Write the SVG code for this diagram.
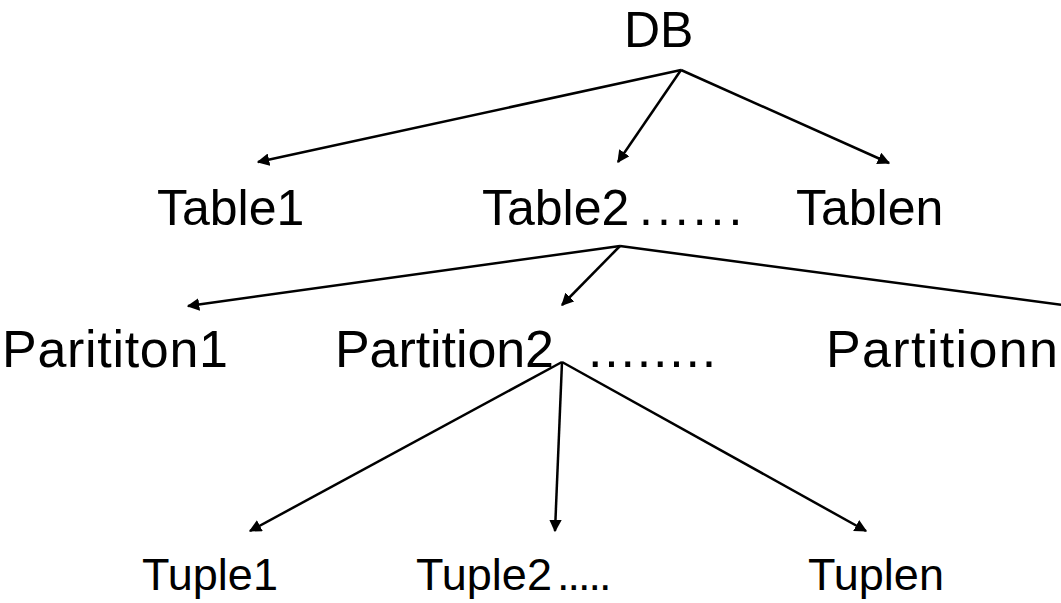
<svg xmlns="http://www.w3.org/2000/svg" width="1061" height="603" viewBox="0 0 1061 603">
<style>
text{font-family:"Liberation Sans",Arial,sans-serif;fill:#000;white-space:pre}
.t{font-size:50px}
.m{font-size:52px}
.b{font-size:45px}
.c line{stroke:#000;stroke-width:2.5;marker-end:url(#ah)}
</style>
<defs>
<marker id="ah" viewBox="0 0 10 10" refX="9" refY="5" markerWidth="5" markerHeight="5" orient="auto" markerUnits="strokeWidth">
<path d="M0,0 L10,5 L0,10 z" fill="#000"/>
</marker>
</defs>
<rect width="1061" height="603" fill="#fff"/>
<g class="c" id="connectors">
<line x1="681" y1="70" x2="258" y2="162"/>
<line x1="681" y1="70" x2="618" y2="162"/>
<line x1="681" y1="70" x2="889" y2="163"/>
<line x1="620" y1="246" x2="188" y2="306"/>
<line x1="620" y1="246" x2="562" y2="305"/>
<line x1="620" y1="246" x2="1085" y2="308"/>
<line x1="562" y1="362" x2="250" y2="531"/>
<line x1="562" y1="362" x2="555" y2="531"/>
<line x1="562" y1="362" x2="866" y2="531"/>
</g>
<g id="db"><text class="t" x="624" y="47">DB</text></g>
<g id="table1"><text class="t" x="157" y="225">Table1</text></g>
<g id="table2"><text class="t" x="482" y="225">Table2</text><text class="t" x="639" y="225" letter-spacing="4">......</text></g>
<g id="tablen"><text class="t" x="796" y="225">Tablen</text></g>
<g id="partition1"><text class="m" x="2" y="367" textLength="226">Parititon1</text></g>
<g id="partition2"><text class="m" x="335" y="367" textLength="219">Partition2</text><text class="m" x="588" y="367" letter-spacing="1.8">........</text></g>
<g id="partitionn"><text class="m" x="826" y="367" textLength="232">Partitionn</text></g>
<g id="tuple1"><text class="b" x="142" y="590">Tuple1</text></g>
<g id="tuple2"><text class="b" x="416" y="590">Tuple2</text><text class="b" x="557" y="590" letter-spacing="-2">.....</text></g>
<g id="tuplen"><text class="b" x="808" y="590">Tuplen</text></g>
</svg>
